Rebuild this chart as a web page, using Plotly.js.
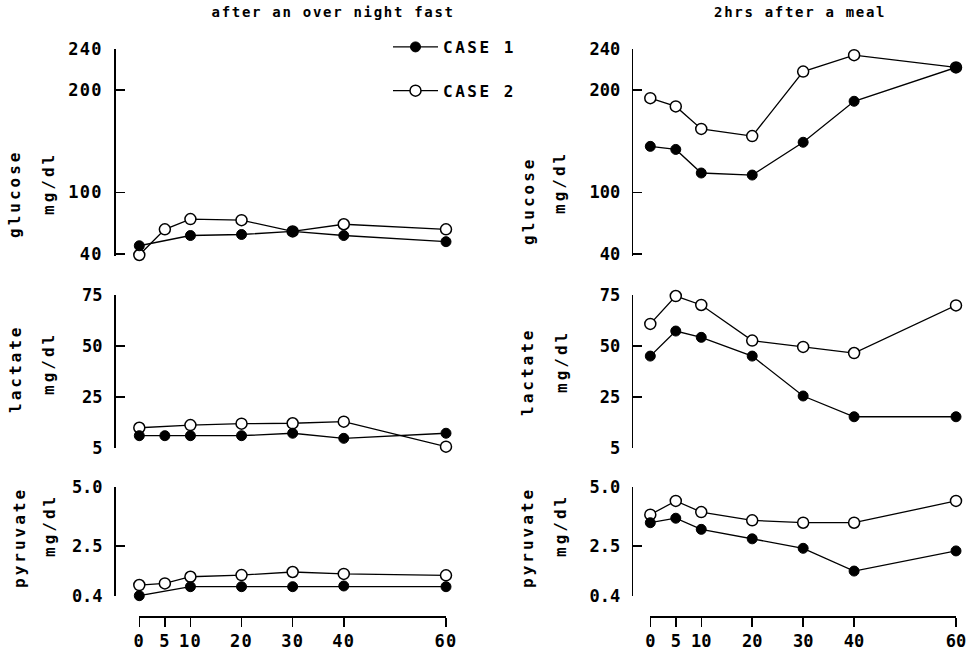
<!DOCTYPE html>
<html>
<head>
<meta charset="utf-8">
<script src="https://cdn.plot.ly/plotly-3.0.1.min.js"></script>
<style>
  html, body { margin: 0; padding: 0; background: #fff; }
  #chart { width: 971px; height: 656px; }
  .xtick text, .ytick text { letter-spacing: 1.2px; }
  .legendtext { letter-spacing: 2.5px; }
  .annotation-text { letter-spacing: 3px; }
  .annotation[data-index="0"] .annotation-text,
  .annotation[data-index="1"] .annotation-text { letter-spacing: 1.7px; }
</style>
</head>
<body>
<div id="chart"></div>
<script>
// ---------------- data ----------------
const times = [0, 5, 10, 20, 30, 40, 60];
const timesNo5 = [0, 10, 20, 30, 40, 60];
const timeTickText = ["0", "5", "10", "20", "30", "40", "60"];

// after an over night fast
const fastGlucoseCase1X = timesNo5;
const fastGlucoseCase1 = [48, 58, 59, 62, 58, 52];
const fastGlucoseCase2X = times;
const fastGlucoseCase2 = [39, 64, 74, 73, 62, 69, 64];

const fastLactateCase1X = times;
const fastLactateCase1 = [5.9, 5.9, 5.9, 5.9, 7.1, 4.6, 7.1];
const fastLactateCase2X = timesNo5;
const fastLactateCase2 = [9.8, 11.1, 11.8, 12.0, 12.8, 0.5];

const fastPyruvateCase1X = timesNo5;
const fastPyruvateCase1 = [0.4, 0.78, 0.78, 0.78, 0.81, 0.78];
const fastPyruvateCase2X = times;
const fastPyruvateCase2 = [0.85, 0.92, 1.2, 1.27, 1.4, 1.32, 1.26];

// 2hrs after a meal
const mealGlucoseCase1 = [145, 142, 119, 117, 149, 189, 222];
const mealGlucoseCase2 = [192, 184, 162, 155, 218, 234, 222];
const mealLactateCase1 = [45, 57.3, 54.2, 45, 25.4, 15.2, 15.2];
const mealLactateCase2 = [60.8, 74.5, 70.1, 52.6, 49.5, 46.5, 69.9];
const mealPyruvateCase1 = [3.48, 3.67, 3.2, 2.8, 2.4, 1.44, 2.29];
const mealPyruvateCase2 = [3.82, 4.4, 3.93, 3.58, 3.48, 3.48, 4.4];

// tick labels
const glucoseTickVals = [40, 100, 200, 240];
const glucoseTickText = ["40", "100", "200", "240"];
const lactateTickVals = [0, 25, 50, 75];
const lactateTickText = ["5", "25", "50", "75"];
const pyruvateTickVals = [0.4, 2.5, 5.0];
const pyruvateTickText = ["0.4", "2.5", "5.0"];

const panelTitles = ["after an over night fast", "2hrs after a meal"];
const measureNames = ["glucose", "lactate", "pyruvate"];
const unitName = "mg/dl";
const caseNames = ["CASE 1", "CASE 2"];

// ---------------- helpers ----------------
const W = 971, H = 656;
const px = x => x / W;
const py = y => 1 - y / H;
const FONT = "DejaVu Sans Mono, Liberation Mono, monospace";

function series(x, y, xa, ya, caseIdx, showLegend) {
  const filled = caseIdx === 0;
  return {
    type: "scatter", mode: "lines+markers",
    x: x, y: y, xaxis: xa, yaxis: ya,
    name: caseNames[caseIdx],
    legendgroup: "c" + caseIdx,
    legendrank: caseIdx + 1,
    showlegend: showLegend,
    cliponaxis: false,
    line: { color: "#000", width: 1.3 },
    marker: filled
      ? { symbol: "circle", size: 10, color: "#000", line: { color: "#000", width: 1 } }
      : { symbol: "circle", size: 11, color: "#fff", line: { color: "#000", width: 1.5 } },
    hoverinfo: "x+y"
  };
}

const traces = [
  series(fastGlucoseCase2X, fastGlucoseCase2, "x", "y", 1, true),
  series(fastGlucoseCase1X, fastGlucoseCase1, "x", "y", 0, true),
  series(times, mealGlucoseCase2, "x2", "y2", 1, false),
  series(times, mealGlucoseCase1, "x2", "y2", 0, false),
  series(fastLactateCase2X, fastLactateCase2, "x", "y3", 1, false),
  series(fastLactateCase1X, fastLactateCase1, "x", "y3", 0, false),
  series(times, mealLactateCase2, "x2", "y4", 1, false),
  series(times, mealLactateCase1, "x2", "y4", 0, false),
  series(fastPyruvateCase2X, fastPyruvateCase2, "x", "y5", 1, false),
  series(fastPyruvateCase1X, fastPyruvateCase1, "x", "y5", 0, false),
  series(times, mealPyruvateCase2, "x2", "y6", 1, false),
  series(times, mealPyruvateCase1, "x2", "y6", 0, false)
];

const tickFont = { family: FONT, size: 17, color: "#000", weight: "bold" };

function xAxis(left, right) {
  return {
    domain: [px(left), px(right)], range: [0, 60],
    anchor: "free", position: py(616),
    tickvals: times, ticktext: timeTickText,
    ticks: "outside", ticklen: 9, tickwidth: 1.5, tickcolor: "#000",
    showline: true, linecolor: "#000", linewidth: 1.5,
    showgrid: false, zeroline: false, tickfont: tickFont, fixedrange: true
  };
}
function yAxis(top, bottom, xpos, range, vals, text) {
  return {
    domain: [py(bottom), py(top)], range: range,
    anchor: "free", position: px(xpos),
    tickvals: vals, ticktext: text,
    ticks: "inside", ticklen: 9, tickwidth: 1.5, tickcolor: "#000",
    ticklabelstandoff: 8,
    showline: true, linecolor: "#000", linewidth: 1.5,
    showgrid: false, zeroline: false, tickfont: tickFont, fixedrange: true
  };
}

const leftAxisX = 114, rightAxisX = 631.7;
// glucose axis runs a little below 40 so the lowest reading stays visible
const rows = [
  { top: 49, bottom: 255.5, range: [38.5, 240], vals: glucoseTickVals, text: glucoseTickText },
  { top: 295, bottom: 447.7, range: [0, 75], vals: lactateTickVals, text: lactateTickText },
  { top: 486.7, bottom: 595.7, range: [0.4, 5.0], vals: pyruvateTickVals, text: pyruvateTickText }
];

const layout = {
  width: W, height: H,
  margin: { l: 0, r: 0, t: 0, b: 0 },
  paper_bgcolor: "#fff", plot_bgcolor: "rgba(0,0,0,0)",
  font: { family: FONT, size: 16, color: "#000", weight: "bold" },
  showlegend: true,
  legend: {
    x: px(388), y: py(30), xanchor: "left", yanchor: "top",
    bgcolor: "rgba(0,0,0,0)", borderwidth: 0,
    traceorder: "grouped", tracegroupgap: 20, itemwidth: 45,
    font: { family: FONT, size: 16, color: "#000", weight: "bold" }
  },
  xaxis: xAxis(139.3, 446),
  xaxis2: xAxis(650.3, 956),
  annotations: []
};
rows.forEach((r, i) => {
  layout["yaxis" + (i === 0 ? "" : (2 * i + 1))] = yAxis(r.top, r.bottom, leftAxisX, r.range, r.vals, r.text);
  layout["yaxis" + (2 * i + 2)] = yAxis(r.top, r.bottom, rightAxisX, r.range, r.vals, r.text);
});

// panel titles
[[333, 12], [800, 12]].forEach((p, i) => {
  layout.annotations.push({
    text: panelTitles[i], xref: "paper", yref: "paper",
    x: px(p[0]), y: py(p[1]), xanchor: "center", yanchor: "middle",
    showarrow: false, font: { family: FONT, size: 14, color: "#000", weight: "bold" }
  });
});
// y axis titles: [nameX, nameY, unitX, unitY]
const yTitlePos = [
  [[15, 194, 48, 184], [528, 201, 559, 183]],
  [[15, 369, 48, 364], [528, 372, 561, 362]],
  [[19, 538, 49, 526], [527, 538, 560, 526]]
];
yTitlePos.forEach((row, ri) => {
  row.forEach(p => {
    layout.annotations.push({
      text: measureNames[ri], xref: "paper", yref: "paper",
      x: px(p[0]), y: py(p[1]), xanchor: "center", yanchor: "middle",
      textangle: -90, showarrow: false, font: { family: FONT, size: 16, color: "#000", weight: "bold" }
    });
    layout.annotations.push({
      text: unitName, xref: "paper", yref: "paper",
      x: px(p[2]), y: py(p[3]), xanchor: "center", yanchor: "middle",
      textangle: -90, showarrow: false, font: { family: FONT, size: 16, color: "#000", weight: "bold" }
    });
  });
});

Plotly.newPlot("chart", traces, layout, { displayModeBar: false, staticPlot: true });
</script>
</body>
</html>
